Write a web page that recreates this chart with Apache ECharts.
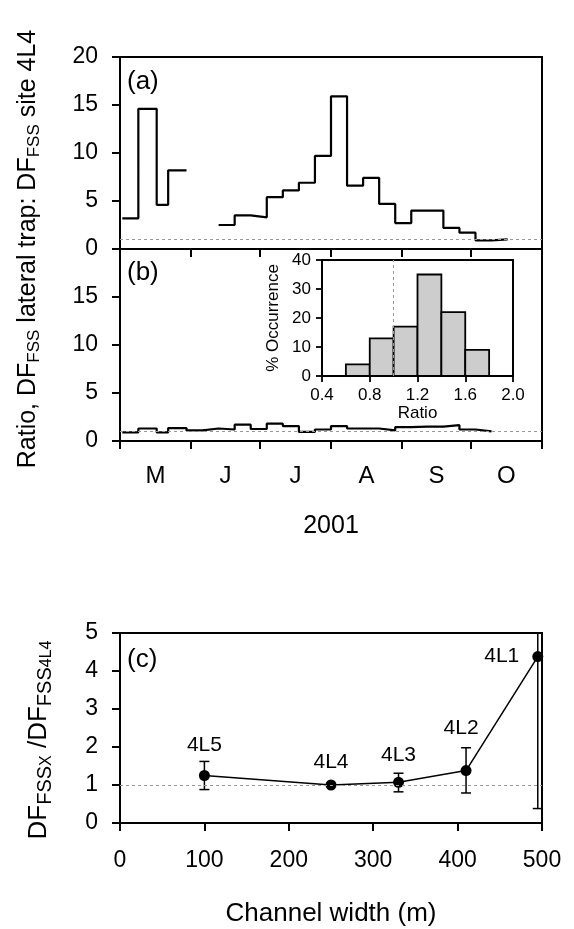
<!DOCTYPE html>
<html>
<head>
<meta charset="utf-8">
<style>
    html, body { margin: 0; padding: 0; background: #fff; }
    #chart { width: 574px; height: 929px; }
</style>
<script src="https://cdn.jsdelivr.net/npm/echarts@6/dist/echarts.min.js"></script>
</head>
<body>
<div id="chart"></div>
<script>
// ---- data ----
// x in days since 1 May 2001
var monthStarts = [0, 31, 61, 92, 123, 153, 184];
var monthMids = [15.5, 46, 76.5, 107.5, 138, 168.5];
var monthLabels = ['M', 'J', 'J', 'A', 'S', 'O'];

// (a) DF_FSS lateral trap : DF_FSS site 4L4, weekly bins (edges, values)
var aEdges1 = [1, 8, 16, 21, 29];
var aVals1 = [3.2, 14.6, 4.6, 8.2];
var aEdges2 = [43, 50, 57, 64, 71, 78, 85, 92, 99, 106, 113, 120, 127, 134, 141, 148, 155, 162, 169];
var aVals2 = [2.5, 3.5, 3.3, 5.4, 6.1, 6.9, 9.7, 15.9, 6.6, 7.4, 4.7, 2.7, 4.0, 4.0, 2.2, 1.7, 0.9, 1.0];

// (b)
var bEdges = [1, 8, 16, 21, 29, 36, 43, 50, 57, 64, 71, 78, 85, 92, 99, 106, 113, 120, 127, 134, 141, 148, 155, 162];
var bVals = [0.9, 1.3, 0.9, 1.35, 1.1, 1.3, 1.2, 1.7, 1.25, 1.8, 1.55, 0.95, 1.2, 1.55, 1.3, 1.3, 1.1, 1.45, 1.5, 1.5, 1.65, 1.2, 1.0];

// (b) inset histogram
var histEdges = [0.6, 0.8, 1.0, 1.2, 1.4, 1.6, 1.8];
var histPct = [4, 13, 17, 35, 22, 9];

// (c)
var siteNames = ['4L5', '4L4', '4L3', '4L2', '4L1'];
var widths = [100, 250, 330, 410, 495];
var ratios = [1.25, 1.0, 1.07, 1.38, 4.38];
var errLow = [0.88, null, 0.82, 0.79, 0.38];
var errHigh = [1.62, null, 1.31, 1.98, 8.38];

var refRatio = 1;

// ---- helpers ----
var F = "'Liberation Sans', Arial, sans-serif";
var black = '#000';

function stepPoints(edges, vals) { // histogram outline
    var pts = [];
    for (var i = 0; i < vals.length; i++) {
        pts.push([edges[i], vals[i]]);
        pts.push([edges[i + 1], vals[i]]);
    }
    return pts;
}

var refLine = {
    silent: true, symbol: ['none', 'none'], label: { show: false },
    lineStyle: { type: [3, 3], color: '#999', width: 1 }
};

function axisBase(extra) {
    var o = {
        type: 'value',
        axisLine: { show: true, lineStyle: { color: black, width: 2 } },
        axisTick: { show: true, length: 8, lineStyle: { color: black, width: 2 } },
        axisLabel: { color: black, fontSize: 23, fontFamily: F },
        splitLine: { show: false },
        nameTextStyle: { color: black, fontSize: 25, fontFamily: F }
    };
    for (var k in extra) {
        if (typeof extra[k] === 'object' && o[k] && !Array.isArray(extra[k])) {
            for (var j in extra[k]) o[k][j] = extra[k][j];
        } else o[k] = extra[k];
    }
    return o;
}

var stepStyle = { color: black, width: 2.2 };

// label placement for (c) sites
var siteLabelStyle = [
    { position: 'top', distance: 14 },
    { position: 'top', distance: 7 },
    { position: 'top', distance: 11 },
    { position: 'top', distance: 26, offset: [-5, 0] },
    { position: 'left', distance: 13 }
];

var richTitle = {
    m: { fontSize: 25, lineHeight: 30, fontFamily: F, fill: black },
    s: { fontSize: 17, lineHeight: 14, verticalAlign: 'bottom', fontFamily: F, fill: black }
};
var richTitleC = {
    m: { fontSize: 26, lineHeight: 32, fontFamily: F, fill: black },
    s: { fontSize: 20, lineHeight: 19, verticalAlign: 'bottom', fontFamily: F, fill: black },
    ss: { fontSize: 16, lineHeight: 6, verticalAlign: 'bottom', fontFamily: F, fill: black }
};

var chart = echarts.init(document.getElementById('chart'));

var option = {
    animation: false,
    backgroundColor: '#fff',
    grid: [
        { left: 120, right: 32, top: 57, height: 192, show: true, borderColor: black, borderWidth: 2 },
        { left: 120, right: 32, top: 249, height: 192, show: true, borderColor: black, borderWidth: 2 },
        { left: 322, width: 191, top: 260, height: 116, show: true, borderColor: black, borderWidth: 2, backgroundColor: '#fff' },
        { left: 120, right: 32, top: 633, height: 190, show: true, borderColor: black, borderWidth: 2 }
    ],
    xAxis: [
        axisBase({ gridIndex: 0, min: 0, max: 184,
            axisTick: { customValues: monthStarts },
            axisLabel: { show: false } }),
        axisBase({ gridIndex: 1, min: 0, max: 184,
            axisTick: { customValues: monthStarts },
            axisLabel: { customValues: monthMids, fontSize: 24, margin: 23,
                formatter: function (v) { return monthLabels[monthMids.indexOf(v)]; } },
            name: '2001', nameLocation: 'middle', nameGap: 73 }),
        axisBase({ gridIndex: 2, min: 0.4, max: 2.0, interval: 0.4,
            axisTick: { length: 6, lineStyle: { color: black, width: 1.8 } },
            axisLine: { lineStyle: { color: black, width: 1.8 } },
            axisLabel: { fontSize: 17, margin: 11, formatter: function (v) { return v.toFixed(1); } },
            name: 'Ratio', nameLocation: 'middle', nameGap: 29,
            nameTextStyle: { fontSize: 17 } }),
        axisBase({ gridIndex: 3, min: 0, max: 500, interval: 100,
            axisLabel: { fontSize: 23, margin: 26 },
            name: 'Channel width (m)', nameLocation: 'middle', nameGap: 78,
            nameTextStyle: { fontSize: 26 } })
    ],
    yAxis: [
        axisBase({ gridIndex: 0, min: 0, max: 20, interval: 5, axisLabel: { margin: 22 } }),
        axisBase({ gridIndex: 1, min: 0, max: 20, interval: 5,
            axisLabel: { margin: 22, formatter: function (v) { return v === 20 ? '' : v; } } }),
        axisBase({ gridIndex: 2, min: 0, max: 40, interval: 10,
            axisTick: { length: 6, lineStyle: { color: black, width: 1.8 } },
            axisLine: { lineStyle: { color: black, width: 1.8 } },
            axisLabel: { fontSize: 17, margin: 11 },
            name: '% Occurrence', nameLocation: 'middle', nameRotate: 90, nameGap: 40,
            nameTextStyle: { fontSize: 17 } }),
        axisBase({ gridIndex: 3, min: 0, max: 5, interval: 1, axisLabel: { margin: 22 } })
    ],
    graphic: [
        { type: 'text', x: 28, y: 249, rotation: Math.PI / 2,
          style: { text: '{m|Ratio, DF}{s|FSS}{m| lateral trap: DF}{s|FSS}{m| site 4L4}',
                   rich: richTitle, align: 'center', verticalAlign: 'middle' } },
        { type: 'text', x: 39, y: 740, rotation: Math.PI / 2,
          style: { text: '{m|DF}{s|FSS}{ss|X}{m| /DF}{s|FSS}{ss|4L4}',
                   rich: richTitleC, align: 'center', verticalAlign: 'middle' } },
        { type: 'text', x: 127, y: 82, style: { text: '(a)', font: '26px ' + F, fill: black, verticalAlign: 'middle' } },
        { type: 'text', x: 127, y: 273, style: { text: '(b)', font: '26px ' + F, fill: black, verticalAlign: 'middle' } },
        { type: 'text', x: 127, y: 660, style: { text: '(c)', font: '26px ' + F, fill: black, verticalAlign: 'middle' } }
    ],
    series: [
        { type: 'line', xAxisIndex: 0, yAxisIndex: 0, data: stepPoints(aEdges1, aVals1),
          showSymbol: false, lineStyle: stepStyle, color: black,
          markLine: Object.assign({ data: [{ yAxis: refRatio }] }, refLine) },
        { type: 'line', xAxisIndex: 0, yAxisIndex: 0, data: stepPoints(aEdges2, aVals2),
          showSymbol: false, lineStyle: stepStyle, color: black },
        { type: 'line', xAxisIndex: 1, yAxisIndex: 1, data: stepPoints(bEdges, bVals),
          showSymbol: false, lineStyle: stepStyle, color: black,
          markLine: Object.assign({ data: [{ yAxis: refRatio }] }, refLine) },
        { type: 'custom', xAxisIndex: 2, yAxisIndex: 2, z: 3,
          data: histPct.map(function (v, i) { return [histEdges[i], histEdges[i + 1], v]; }),
          encode: { x: [0, 1], y: 2 },
          renderItem: function (params, api) {
              var p0 = api.coord([api.value(0), api.value(2)]);
              var p1 = api.coord([api.value(1), 0]);
              return { type: 'rect',
                  shape: { x: p0[0], y: p0[1], width: p1[0] - p0[0], height: p1[1] - p0[1] },
                  style: { fill: '#cdcdcd', stroke: black, lineWidth: 1.8 } };
          } },
        { type: 'line', xAxisIndex: 2, yAxisIndex: 2, z: 1, data: [],
          markLine: Object.assign({ data: [{ xAxis: refRatio }] }, refLine) },
        { type: 'custom', xAxisIndex: 3, yAxisIndex: 3,
          data: widths.map(function (w, i) { return errLow[i] == null ? null : [w, errLow[i], errHigh[i]]; })
                      .filter(function (d) { return d; }),
          encode: { x: 0, y: [1, 2] },
          renderItem: function (params, api) {
              var lo = api.coord([api.value(0), api.value(1)]);
              var hi = api.coord([api.value(0), api.value(2)]);
              var top = params.coordSys.y, cw = 5;
              var st = { stroke: black, lineWidth: 1.5 };
              var kids = [
                  { type: 'line', shape: { x1: lo[0], y1: lo[1], x2: lo[0], y2: Math.max(hi[1], top) }, style: st },
                  { type: 'line', shape: { x1: lo[0] - cw, y1: lo[1], x2: lo[0] + cw, y2: lo[1] }, style: st }
              ];
              if (hi[1] >= top) kids.push({ type: 'line', shape: { x1: hi[0] - cw, y1: hi[1], x2: hi[0] + cw, y2: hi[1] }, style: st });
              return { type: 'group', children: kids };
          } },
        { type: 'line', xAxisIndex: 3, yAxisIndex: 3, z: 4,
          data: widths.map(function (w, i) {
              return { name: siteNames[i], value: [w, ratios[i]], label: siteLabelStyle[i] };
          }),
          symbol: 'circle', symbolSize: 11, color: black,
          lineStyle: { color: black, width: 1.5 },
          itemStyle: { color: black },
          label: { show: true, formatter: '{b}', fontSize: 21, color: black, fontFamily: F },
          markLine: Object.assign({ data: [{ yAxis: refRatio }] }, refLine) }
    ]
};

chart.setOption(option);
window.onresize = chart.resize;
</script>
</body>
</html>
